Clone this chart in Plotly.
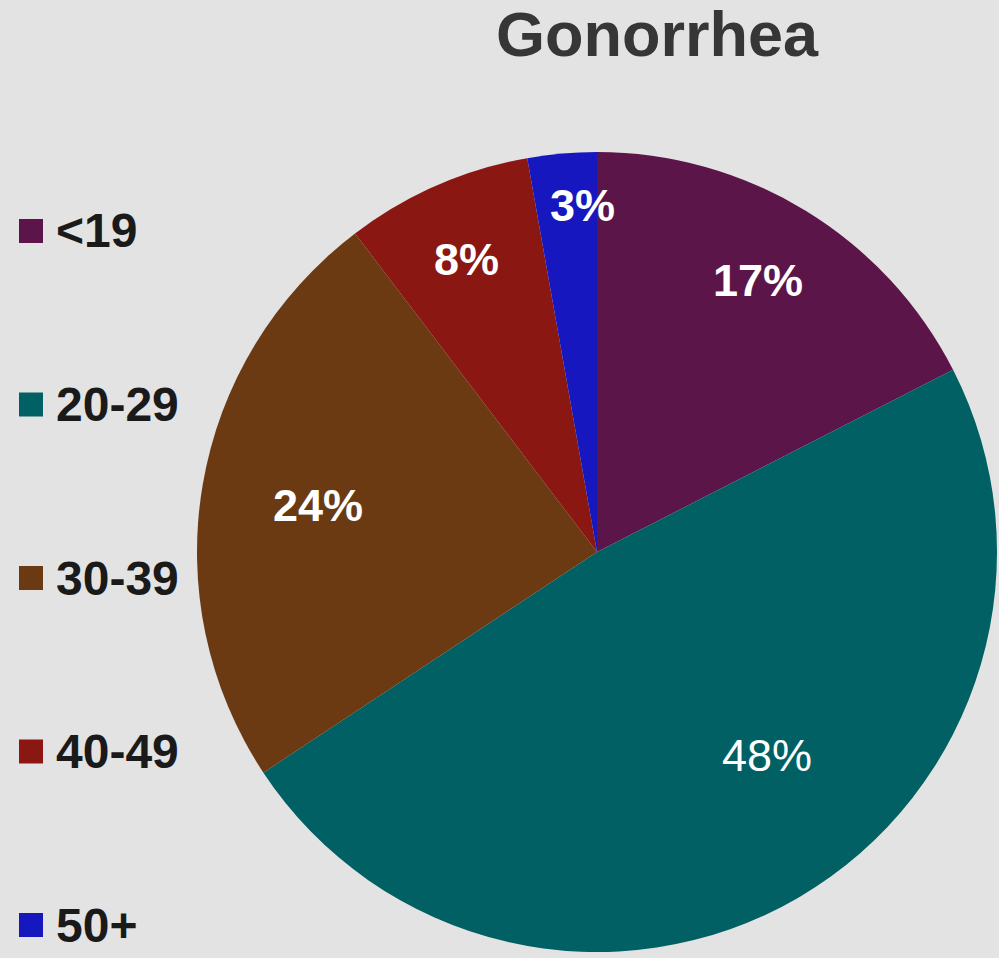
import math
import plotly.graph_objects as go

categories = ["<19", "20-29", "30-39", "40-49", "50+"]
values = [17.47, 48.23, 23.96, 7.55, 2.79]
colors = ["#5c1548", "#006064", "#6b3a12", "#8b1712", "#1717bf"]
bold_label = [True, False, True, True, True]
title_text = "Gonorrhea"

# label placement relative to each slice's mid-angle (radius fraction, angle shift in degrees)
label_radius = [0.79, 0.663, 0.707, 0.80, 0.867]
label_shift = [-0.8, -9.6, -0.1, -0.5, 2.6]

W, H = 999, 958
cx, cy, R = 597, 552, 400

fig = go.Figure(go.Pie(
    labels=categories, values=values, sort=False, direction="clockwise", rotation=0,
    marker=dict(colors=colors, line=dict(width=0)),
    textinfo="none",
    domain=dict(x=[(cx - R) / W, (cx + R) / W], y=[(H - cy - R) / H, (H - cy + R) / H]),
    showlegend=False, hoverinfo="label+percent",
))

total = float(sum(values))
cum = 0.0
for v, b, rf, sh in zip(values, bold_label, label_radius, label_shift):
    mid = (cum + v / 2.0) / total * 2 * math.pi + math.radians(sh)
    cum += v
    px = cx + rf * R * math.sin(mid)
    py = cy - rf * R * math.cos(mid)
    txt = "%d%%" % round(v / total * 100)
    fig.add_annotation(xref="paper", yref="paper", x=px / W, y=1 - py / H,
                       xanchor="center", yanchor="middle", showarrow=False,
                       text=("<b>%s</b>" % txt) if b else txt,
                       font=dict(family="Liberation Sans, Arial", size=45, color="white"))

# legend drawn manually
y0, step = 231, 173.5
for i, (c, col) in enumerate(zip(categories, colors)):
    yc = y0 + i * step
    fig.add_shape(type="rect", xref="paper", yref="paper",
                  x0=19 / W, x1=43 / W, y0=1 - (yc + 12) / H, y1=1 - (yc - 12) / H,
                  fillcolor=col, line=dict(width=0))
    fig.add_annotation(xref="paper", yref="paper", x=54 / W, y=1 - yc / H,
                       xanchor="left", yanchor="middle", showarrow=False,
                       text="<b>%s</b>" % c,
                       font=dict(family="Liberation Sans, Arial", size=48, color="#1a1a1a"))

fig.add_annotation(xref="paper", yref="paper", x=657 / W, y=1 - 34 / H,
                   xanchor="center", yanchor="middle", showarrow=False,
                   text="<b>%s</b>" % title_text,
                   font=dict(family="Liberation Sans, Arial", size=63, color="#363636"))

fig.update_layout(width=W, height=H, margin=dict(l=0, r=0, t=0, b=0),
                  paper_bgcolor="#e3e3e3", plot_bgcolor="#e3e3e3")

fig.write_html("out.html", config={"displayModeBar": False},
               post_script="document.body.style.margin='0';")
